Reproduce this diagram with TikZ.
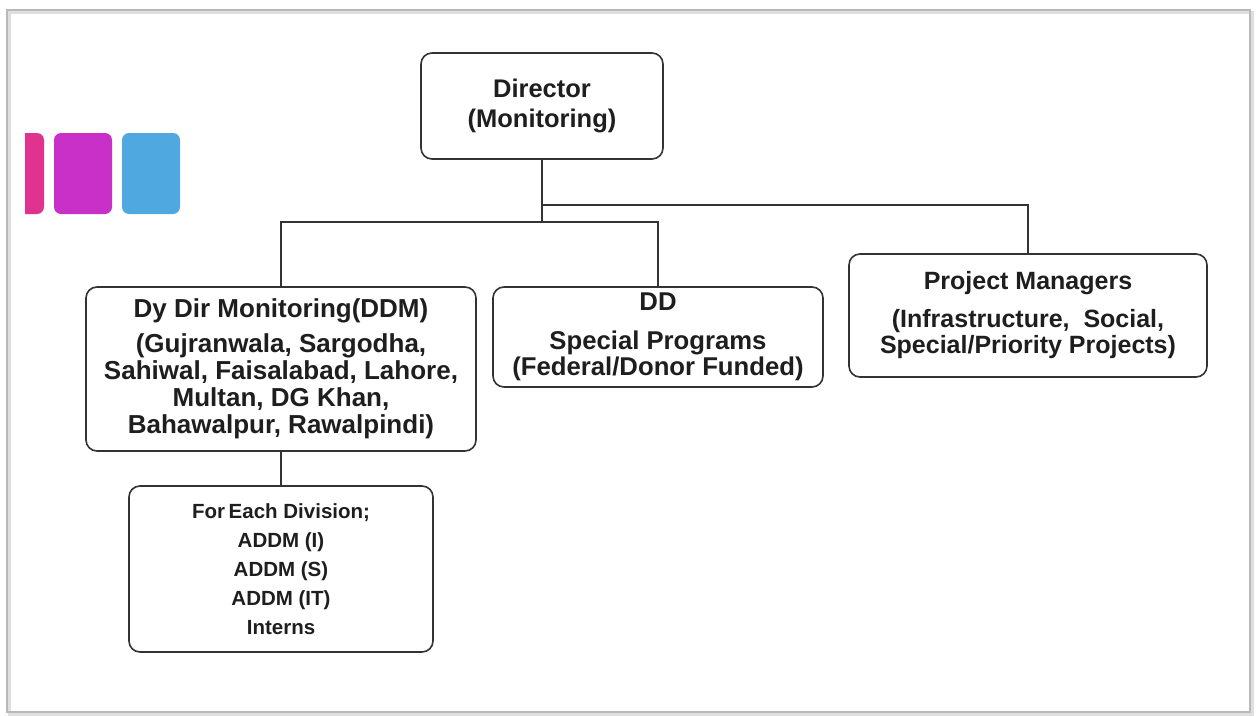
\documentclass[tikz,border=0pt]{standalone}
\usepackage{fontspec}
\setmainfont{Liberation Sans}
\definecolor{txt}{HTML}{1E1E1E}
\definecolor{ln}{HTML}{333333}
\definecolor{cpink}{HTML}{E0338F}
\definecolor{cmag}{HTML}{C930C8}
\definecolor{cblue}{HTML}{50A8E0}
\begin{document}
\begin{tikzpicture}[x=1pt,y=-1pt,
  box/.style={draw=ln, line width=1.6pt, rounded corners=11pt, fill=white, align=center, text=txt, inner sep=0pt, font=\bfseries},
  conn/.style={draw=ln, line width=1.6pt},
  tile/.style={rounded corners=7pt, draw=none}]
\useasboundingbox (0,0) rectangle (1257,715);
\fill[white] (0,0) rectangle (1257,715);
% page frame with soft shadow
\draw[gray!25, line width=3pt] (9,12) rectangle (1252,714);
\draw[gray!55, line width=1.2pt] (7,10) rectangle (1250,712);
% colour tiles
\begin{scope}
\clip (25,120) rectangle (200,230);
\fill[cpink, rounded corners=7pt] (0,133) rectangle (44,214);
\end{scope}
\fill[cmag, tile] (54,133) rectangle (112,214);
\fill[cblue, tile] (122,133) rectangle (180,214);
% nodes
\node[box, minimum width=242pt, minimum height=106pt, font=\bfseries\fontsize{25.5}{30}\selectfont] (dir) at (542,106) {Director\\(Monitoring)};
\node[box, minimum width=390pt, minimum height=164pt, font=\bfseries\fontsize{26}{27}\selectfont] (ddm) at (281,369)
  {Dy Dir Monitoring(DDM)\\[8pt](Gujranwala, Sargodha,\\Sahiwal, Faisalabad, Lahore,\\Multan, DG Khan,\\Bahawalpur, Rawalpindi)};
\node[box, minimum width=330pt, minimum height=100pt, font=\bfseries\fontsize{25.7}{26}\selectfont] (dd) at (658,337)
  {DD\\[13pt]Special Programs\\(Federal/Donor Funded)};
\node[box, minimum width=358pt, minimum height=123pt, font=\bfseries\fontsize{25}{26}\selectfont] (pm) at (1028,315.5)
  {Project Managers\\[12pt](Infrastructure,\ \ Social,\\Special/Priority Projects)};
\node[box, minimum width=304pt, minimum height=166pt, font=\bfseries\fontsize{20.5}{29}\selectfont] (sub) at (281,569)
  {For\hspace{-2pt} Each Division;\\ADDM (I)\\ADDM (S)\\ADDM (IT)\\Interns};
% connectors
\coordinate (busa) at (0,205);
\coordinate (busb) at (0,222);
\draw[conn] (dir.south) -- (dir.south |- busb);
\draw[conn] (ddm.north) -- (ddm.north |- busb) -- (dd.north |- busb) -- (dd.north);
\draw[conn] (dir.south |- busa) -- (pm.north |- busa) -- (pm.north);
\draw[conn] (ddm.south) -- (sub.north);
\end{tikzpicture}
\end{document}
